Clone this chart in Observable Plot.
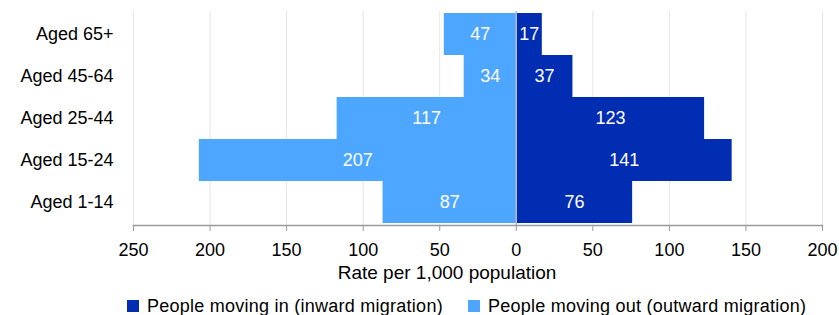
<!DOCTYPE html>
<html>
<head>
<meta charset="utf-8">
<script src="https://cdn.jsdelivr.net/npm/d3@7"></script>
<script src="https://cdn.jsdelivr.net/npm/@observablehq/plot@0.6"></script>
<style>
  html, body { margin: 0; padding: 0; background: #fff; }
  body { width: 839px; height: 315px; overflow: hidden; font-family: "Liberation Sans", Arial, sans-serif; }
  #legend { display: flex; align-items: center; height: 22px; padding-top: 6px; margin-left: 127px; font-size: 18px; letter-spacing: 0.25px; color: #000; white-space: nowrap; }
  .sw { width: 12px; height: 12px; display: inline-block; margin-right: 8px; }
  .item { display: flex; align-items: center; margin-right: 25px; }
</style>
</head>
<body>
<div id="chart"></div>
<div id="legend"></div>
<script>
const categories = ["Aged 65+", "Aged 45-64", "Aged 25-44", "Aged 15-24", "Aged 1-14"];
const inward = [17, 37, 123, 141, 76];
const outward = [47, 34, 117, 207, 87];
const xTicks = [-250, -200, -150, -100, -50, 0, 50, 100, 150, 200];
const seriesNames = ["People moving in (inward migration)", "People moving out (outward migration)"];
const colors = ["#002db2", "#4da6ff"];
const xLabel = "Rate per 1,000 population";

const rows = [];
categories.forEach((c, i) => {
  rows.push({cat: c, series: seriesNames[0], value: inward[i], signed: inward[i]});
  rows.push({cat: c, series: seriesNames[1], value: outward[i], signed: -outward[i]});
});

const H = 289;
const chart = Plot.plot({
  width: 839,
  height: H,
  marginLeft: 133,
  marginRight: 17,
  marginTop: 11,
  marginBottom: H - 225,
  style: {fontFamily: "'Liberation Sans', Arial, sans-serif", fontSize: "18px", background: "#fff", color: "#000"},
  x: {domain: [-250, 200]},
  y: {domain: categories, padding: 0},
  color: {domain: seriesNames, range: colors},
  marks: [
    Plot.ruleX(xTicks, {stroke: "#e6e6e6", strokeWidth: 1}),
    Plot.barX(rows, {x: "signed", y: "cat", fill: "series"}),
    Plot.ruleX([0], {stroke: "#b8b8b8", strokeWidth: 1.5}),
    Plot.text(rows, {x: d => d.signed / 2, y: "cat", text: d => String(d.value), fill: "white", fontSize: 18}),
    Plot.frame({anchor: "bottom", stroke: "#9a9a9a", strokeWidth: 1.5}),
    Plot.axisX(xTicks, {tickSize: 6, tickPadding: 12, stroke: "#9a9a9a", fill: "#000", tickFormat: d => String(Math.abs(d)), label: null, fontSize: 18}),
    Plot.axisY({tickSize: 0, tickPadding: 20, label: null, fontSize: 18, fill: "#000"}),
    Plot.text([xLabel], {frameAnchor: "bottom", dx: -31, dy: 53, fontSize: 19, fill: "#000"})
  ]
});
document.getElementById("chart").appendChild(chart);

const legend = document.getElementById("legend");
seriesNames.forEach((name, i) => {
  const item = document.createElement("span");
  item.className = "item";
  const sw = document.createElement("span");
  sw.className = "sw";
  sw.style.background = colors[i];
  item.appendChild(sw);
  item.appendChild(document.createTextNode(name));
  legend.appendChild(item);
});
</script>
</body>
</html>
